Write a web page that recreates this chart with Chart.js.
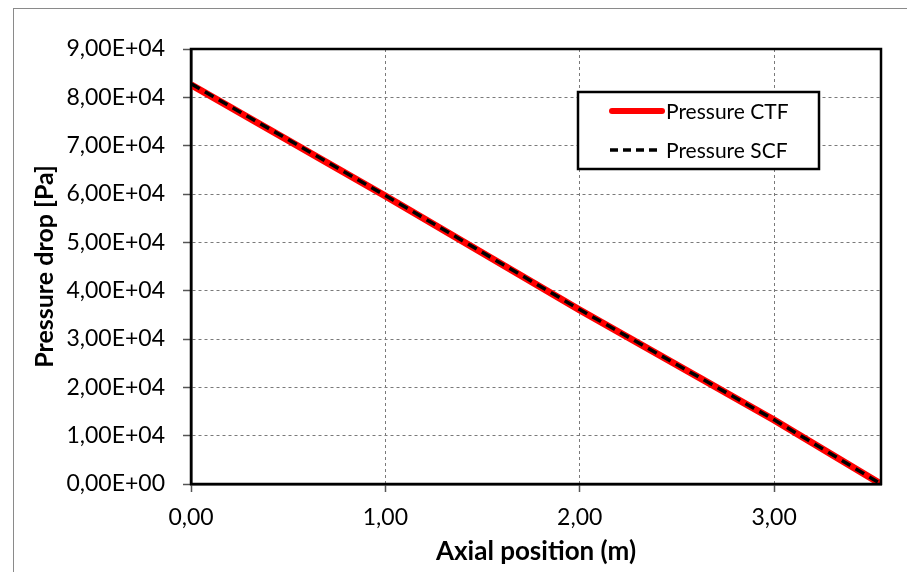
<!DOCTYPE html>
<html>
<head>
<meta charset="utf-8">
<script src="https://cdn.jsdelivr.net/npm/chart.js@4.4.1/dist/chart.umd.min.js"></script>
<style>
  html, body { margin: 0; padding: 0; background: #fff; }
  #wrap { position: relative; width: 907px; height: 572px; overflow: hidden; }
  #frame { position: absolute; left: 13px; top: 8px; width: 1000px; height: 1000px; border: 1px solid #8a8a8a; box-sizing: border-box; }
  canvas { position: absolute; left: 0; top: 0; }
</style>
</head>
<body>
<div id="wrap">
  <div id="frame"></div>
  <canvas id="c" width="907" height="572"></canvas>
</div>
<script>
// Data
const positions = [0, 1, 2, 3, 3.55];
const pressureCTF = [82600, 59600, 36000, 13250, 0];
const pressureSCF = [82800, 59700, 36100, 13300, 0];
const seriesLabels = ['Pressure CTF', 'Pressure SCF'];
const xTickValues = [0, 1, 2, 3];
const xTitle = 'Axial position (m)';
const yTitle = 'Pressure drop [Pa]';

const FONT = 'Lato, "Open Sans", sans-serif';

function toPoints(xs, ys) { return xs.map((x, i) => ({x: x, y: ys[i]})); }

function fmtY(v) {
  if (v === 0) return '0,00E+00';
  const e = Math.floor(Math.log10(Math.abs(v)));
  const m = v / Math.pow(10, e);
  const es = (e < 0 ? '-' : '+') + String(Math.abs(e)).padStart(2, '0');
  return m.toFixed(2).replace('.', ',') + 'E' + es;
}

const frameAndLegend = {
  id: 'frameAndLegend',
  afterDraw(chart) {
    const ctx = chart.ctx;
    const a = chart.chartArea;
    ctx.save();
    ctx.strokeStyle = '#000';
    ctx.lineWidth = 2.5;
    ctx.strokeRect(a.left, a.top, a.right - a.left, a.bottom - a.top);
    // legend box
    const lx = 578, ly = 92, lw = 241, lh = 77;
    ctx.fillStyle = '#fff';
    ctx.fillRect(lx, ly, lw, lh);
    ctx.lineWidth = 2.5;
    ctx.strokeStyle = '#000';
    ctx.strokeRect(lx, ly, lw, lh);
    const ds = chart.data.datasets;
    const rows = [111, 150];
    ds.forEach((d, i) => {
      ctx.save();
      ctx.strokeStyle = d.borderColor;
      ctx.lineWidth = i === 0 ? 6 : 3.5;
      ctx.lineCap = i === 0 ? 'round' : 'butt';
      ctx.setLineDash(i === 0 ? [] : [8, 5]);
      ctx.beginPath();
      ctx.moveTo(i === 0 ? 612 : 610, rows[i]);
      ctx.lineTo(662, rows[i]);
      ctx.stroke();
      ctx.restore();
      ctx.fillStyle = '#000';
      ctx.font = '21px ' + FONT;
      ctx.textAlign = 'left';
      ctx.textBaseline = 'middle';
      ctx.fillText(d.label, 666, rows[i] + 1);
    });
    ctx.restore();
  }
};

new Chart(document.getElementById('c'), {
  type: 'line',
  data: {
    datasets: [
      {
        label: seriesLabels[0],
        data: toPoints(positions, pressureCTF),
        borderColor: '#ff0000',
        borderWidth: 7,
        pointRadius: 0,
        tension: 0,
        order: 1,
        borderCapStyle: 'butt'
      },
      {
        label: seriesLabels[1],
        data: toPoints(positions, pressureSCF),
        borderColor: '#000000',
        borderWidth: 3.5,
        borderDash: [10, 6],
        pointRadius: 0,
        tension: 0,
        order: 0
      }
    ]
  },
  options: {
    responsive: false,
    animation: false,
    devicePixelRatio: 1,
    layout: { padding: { left: 0, right: 26, top: 49, bottom: 0 } },
    plugins: { legend: { display: false }, tooltip: { enabled: false } },
    scales: {
      x: {
        type: 'linear',
        min: 0,
        max: 3.55,
        afterBuildTicks(scale) { scale.ticks = xTickValues.map(v => ({value: v})); },
        afterFit(scale) { scale.height = 88; },
        ticks: {
          callback: v => v.toFixed(2).replace('.', ','),
          font: { family: FONT, size: 23 },
          color: '#000',
          padding: 12,
          maxRotation: 0
        },
        grid: {
          color: '#7a7a7a',
          lineWidth: 1,
          tickLength: 8,
          tickColor: '#555',
          tickWidth: 1.5,
          tickBorderDash: []
        },
        border: { display: true, color: '#000', width: 2.5, dash: [3, 3] },
        title: {
          display: true,
          text: xTitle,
          font: { family: FONT, size: 26, weight: 'bold' },
          color: '#000',
          padding: { top: 0, bottom: 5 }
        }
      },
      y: {
        type: 'linear',
        min: 0,
        max: 90000,
        afterFit(scale) { scale.width = 191; },
        ticks: {
          stepSize: 10000,
          callback: v => fmtY(v),
          font: { family: FONT, size: 23 },
          color: '#000',
          padding: 18
        },
        grid: {
          color: '#7a7a7a',
          lineWidth: 1,
          tickLength: 8,
          tickColor: '#555',
          tickWidth: 1.5,
          tickBorderDash: []
        },
        border: { display: true, color: '#000', width: 2.5, dash: [3, 3] },
        title: {
          display: true,
          text: yTitle,
          font: { family: FONT, size: 25, weight: 'bold' },
          color: '#000',
          padding: { top: 30, bottom: 0 }
        }
      }
    }
  },
  plugins: [frameAndLegend]
});
</script>
</body>
</html>
